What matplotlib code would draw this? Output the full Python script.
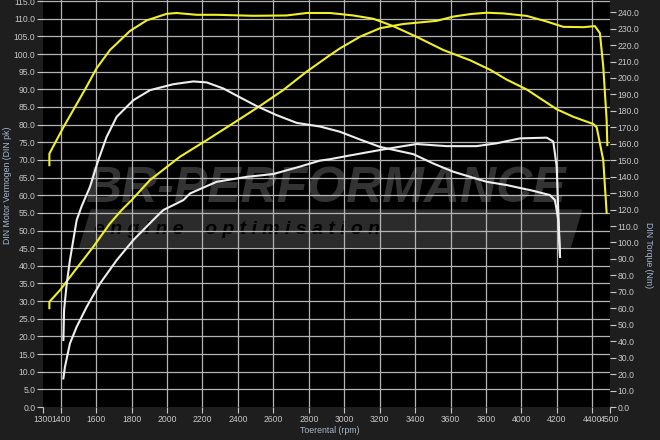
"""Dyno chart: power and torque before / after tuning"""
import matplotlib
matplotlib.use('Agg')
import matplotlib.pyplot as plt
from matplotlib.patches import Polygon

plt.rcParams['font.family'] = ['Liberation Sans', 'DejaVu Sans']

# yellow = tuned, white = stock
rpm_pow_tuned = [1336, 1336, 1396, 1490, 1584, 1678, 1744, 1800, 1904, 2073, 2224, 2374, 2525,
                 2656, 2788, 2920, 2976, 3089, 3202, 3333, 3522, 3616, 3710, 3804, 3898,
                 4030, 4143, 4236, 4349, 4415, 4443, 4462, 4481, 4485]
pow_tuned = [28.0, 29.8, 33.1, 39.3, 45.4, 52.0, 55.8, 58.6, 64.3, 70.9, 75.6, 80.4, 85.3,
             89.8, 95.0, 99.7, 101.6, 104.9, 107.3, 108.5, 109.4, 110.6, 111.3, 111.7, 111.5,
             110.8, 109.2, 107.7, 107.6, 107.9, 105.9, 96.4, 81.3, 74.2]

rpm_trq_tuned = [1336, 1336, 1415, 1537, 1603, 1678, 1791, 1885, 1998, 2054, 2167, 2280, 2487,
                 2675, 2788, 2920, 3051, 3164, 3277, 3409, 3559, 3710, 3823, 3917, 4030,
                 4199, 4293, 4406, 4425, 4462, 4481]
trq_tuned = [147, 154, 170, 193, 206, 217, 228.6, 235, 239, 239.5, 238.4, 238.4, 237.8,
             238, 239.5, 239.5, 238, 236, 231.5, 225, 217, 210.8, 205, 199, 193,
             181, 176.4, 172, 170, 150, 118]

rpm_pow_stock = [1415, 1424, 1452, 1490, 1547, 1622, 1716, 1810, 1922, 1979, 2092, 2130, 2280,
                 2450, 2600, 2750, 2863, 2920, 3014, 3202, 3333, 3409, 3578, 3747, 3860,
                 3992, 4143, 4180, 4199, 4208, 4218]
pow_stock = [8.1, 11.4, 18.0, 22.7, 28.4, 35.0, 41.6, 47.3, 53.0, 55.8, 58.6, 60.5, 63.8,
             65.2, 66.0, 68.1, 69.8, 70.2, 71.1, 72.8, 73.9, 74.5, 73.9, 73.9, 74.7,
             76.1, 76.3, 75.2, 68.1, 55.8, 42.6]

rpm_trq_stock = [1415, 1419, 1434, 1452, 1471, 1490, 1518, 1565, 1612, 1659, 1716, 1810, 1904,
                 2035, 2148, 2224, 2318, 2412, 2506, 2619, 2732, 2863, 2976, 3089, 3202,
                 3390, 3503, 3616, 3804, 3917, 4067, 4161, 4189, 4199, 4208, 4218]
trq_stock = [40.7, 59, 75, 89.3, 101.5, 113.6, 122, 133.8, 150, 164.2, 176.4, 186.5, 192.6,
             196.2, 197.9, 197.3, 193.6, 188.2, 182.9, 177.4, 172.7, 170.5, 167.3, 162.6, 158.1,
             153.7, 148, 143, 136.9, 134.9, 131.4, 128.8, 125.8, 119.7, 113.6, 91.3]

x_ticks = [1300, 1400, 1600, 1800, 2000, 2200, 2400, 2600, 2800, 3000, 3200, 3400,
           3600, 3800, 4000, 4200, 4400, 4500]

BG = '#1e1e1e'
TXT = '#c8c8c8'
LBL = '#a8b8d0'
YEL = '#f0f028'
WHT = '#eeeeee'

fig = plt.figure(figsize=(6.6, 4.4), dpi=100, facecolor=BG)
ax = fig.add_axes([43/660, 33/440, 567/660, 407/440])
ax.set_facecolor('black')
ax.set_xlim(1300, 4500)
ax.set_ylim(0, 115.3)
ax.set_xticks(x_ticks)
ax.set_yticks([i * 5 for i in range(24)])
ax.set_yticklabels([f'{i * 5:.1f}' for i in range(24)])

# grid (skip the edge lines at 1300 / 4500)
for x in x_ticks[1:-1]:
    ax.axvline(x, color='#b4b4b4', lw=0.9, zorder=1)
for y in range(5, 116, 5):
    ax.axhline(y, color='#b4b4b4', lw=0.9, zorder=1)

# watermark
band = Polygon([[0.065, 0.393], [0.085, 0.484], [0.95, 0.484], [0.93, 0.393]],
               closed=True, transform=ax.transAxes, color='#2b2b2b', zorder=0.5)
ax.add_patch(band)
ax.text(0.075, 0.535, 'BR-PERFORMANCE', transform=ax.transAxes, fontsize=36,
        fontweight='bold', style='italic', color='#333333', va='center', ha='left', zorder=0.6)
ax.text(0.09, 0.437, 'e n g i n e    o p t i m i s a t i o n', transform=ax.transAxes,
        fontsize=14, fontweight='bold', style='italic', color='black', va='center',
        ha='left', zorder=0.6)

ax.plot(rpm_pow_tuned, pow_tuned, color=YEL, lw=1.5, zorder=3)
ax.plot(rpm_pow_stock, pow_stock, color=WHT, lw=1.5, zorder=3)

ax2 = ax.twinx()
ax2.set_ylim(0, 247.4)
ax2.set_yticks([i * 10 for i in range(25)])
ax2.set_yticklabels([f'{i * 10:.1f}' for i in range(25)])
ax2.plot(rpm_trq_tuned, trq_tuned, color=YEL, lw=1.5)
ax2.plot(rpm_trq_stock, trq_stock, color=WHT, lw=1.5)

for a in (ax, ax2):
    for s in a.spines.values():
        s.set_visible(False)
    a.tick_params(colors=TXT, labelsize=6.2, length=4, width=0.8, pad=1.5)

fig.text(0.012, 0.58, 'DIN Motor Vermogen (DIN pk)', rotation=90, color=LBL,
         fontsize=6.3, ha='center', va='center')
fig.text(0.982, 0.42, 'DIN Torque (Nm)', rotation=270, color=LBL,
         fontsize=6.3, ha='center', va='center')
fig.text(0.50, 0.022, 'Toerental (rpm)', color=LBL, fontsize=6.3, ha='center', va='center')

fig.savefig('out.png', dpi=100, facecolor=BG)
